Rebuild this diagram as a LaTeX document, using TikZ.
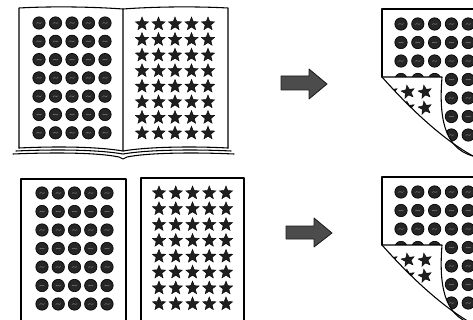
\documentclass[tikz,border=0pt]{standalone}
\usetikzlibrary{shapes.geometric}
\begin{document}
\begin{tikzpicture}[x=0.75pt,y=-0.75pt,
  edge/.style={line width=0.8pt, line join=round, line cap=round},
  dotdisc/.style={fill=black!85, draw=black, line width=0.5pt},
  dottex/.style={draw=black!50, line width=0.35pt},
  stardot/.style={star, star points=5, star point ratio=2.3, minimum size=10.5pt,
    inner sep=0pt, fill=black!88, draw=black, line width=0.3pt},
  arrowfill/.style={fill=black!70, draw=black!90, line width=0.6pt, line join=round}]
\useasboundingbox (0,0) rectangle (473,320);
\clip (0,0) rectangle (473,320);

% a printed dot with a little halftone swirl
\newcommand\discat[2]{%
  \path[dotdisc] (#1,#2) circle[radius=6.2];
  \draw[dottex] ({#1-2.5},{#2+0.5}) .. controls ({#1-1},{#2-2}) and ({#1+1},{#2+2}) .. ({#1+2.5},{#2-0.5});}

% ---------- open book ----------
\draw[edge] (19,148) -- (19,8) .. controls (55,6) and (95,7) .. (123,9) -- (123,151);
\draw[edge] (228,148) -- (228,8) .. controls (190,6) and (150,7) .. (123,9);
\draw[edge] (19,148) .. controls (60,146) and (100,147) .. (123,151)
            .. controls (146,147) and (190,146) .. (228,148);
\draw[edge] (16,151) .. controls (60,149) and (100,150) .. (123,154)
            .. controls (146,150) and (190,149) .. (231,151);
\draw[edge] (13,154) .. controls (60,152) and (100,153) .. (119,157) -- (123,159) -- (127,157)
            .. controls (146,153) and (190,152) .. (234,154);
\foreach \i in {0,...,4} \foreach \j in {0,...,6} {\discat{39+16.5*\i}{23+18.3*\j}}
\foreach \i in {0,...,4} \foreach \j in {0,...,7}
  \node[stardot] (bk\i\j) at ({142+16.5*\i},{24+15.6*\j}) {};

% ---------- two loose sheets ----------
\draw[edge] (21,330) -- (21,179) -- (126,179) -- (126,330);
\draw[edge] (141,330) -- (141,178) -- (244,178) -- (244,330);
\foreach \i in {0,...,4} \foreach \j in {0,...,6} {\discat{42+16.25*\i}{193+18.5*\j}}
\foreach \i in {0,...,4} \foreach \j in {0,...,7}
  \node[stardot] (sh\i\j) at ({159+16.75*\i},{193+15.85*\j}) {};

% ---------- arrows ----------
\path[arrowfill] (281,76) -- (309,76) -- (309,69) -- (327,84) -- (309,99) -- (309,90) -- (281,90) -- cycle;
\path[arrowfill] (286,226) -- (314,226) -- (314,218) -- (332,233) -- (314,247) -- (314,239) -- (286,239) -- cycle;

% ---------- peeled pages ----------
\foreach \dy/\tag in {0/a,168/b} {
\begin{scope}[shift={(0,\dy)}]
  \begin{scope}
    \clip (382,9) -- (490,9) -- (490,165) -- (473,156)
          .. controls (440,138) and (405,103) .. (382,77) -- cycle;
    \foreach \i in {0,...,4} \foreach \j in {0,...,6} {\discat{401+16.8*\i}{24+18.5*\j}}
  \end{scope}
  \draw[edge] (382,77) -- (382,9) -- (490,9);
  \path[fill=white] (382,77) -- (442,77) .. controls (439,115) and (443,148) .. (473,156)
        .. controls (440,138) and (405,103) .. (382,77) -- cycle;
  \begin{scope}
    \clip (382,77) -- (442,77) .. controls (439,115) and (443,148) .. (473,156)
        .. controls (440,138) and (405,103) .. (382,77) -- cycle;
    \foreach \p/\x/\y in {1/391/92,2/408/92,3/425/92,4/408/108,5/425/108}
      \node[stardot, rotate=10] (fl\tag\p) at (\x,\y) {};
  \end{scope}
  \draw[edge] (382,77) -- (442,77) .. controls (439,115) and (443,148) .. (473,156) -- (490,160);
  \draw[edge] (382,77) .. controls (405,103) and (440,138) .. (473,156);
\end{scope}}
\end{tikzpicture}
\end{document}
